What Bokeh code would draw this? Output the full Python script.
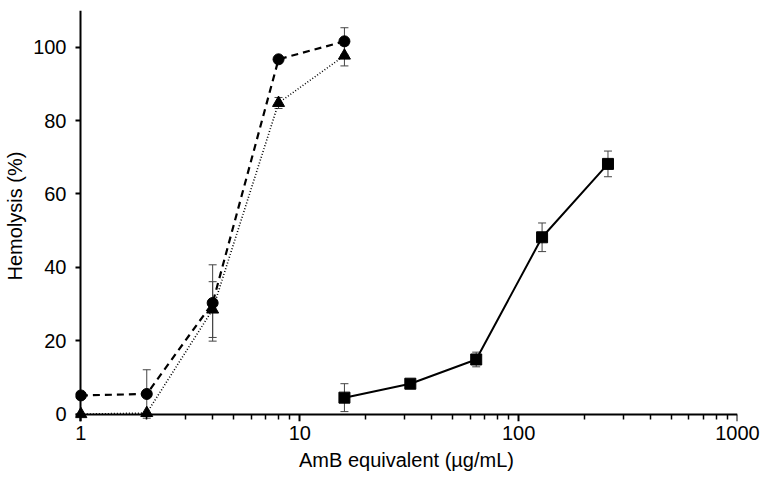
from bokeh.plotting import figure
from bokeh.models import FixedTicker, Whisker, ColumnDataSource, TeeHead, LogAxis, LinearAxis
from bokeh.embed import file_html
from bokeh.resources import INLINE

# AmB equivalent concentration (µg/mL) and hemolysis (%) with SD
conc_a = [1, 2, 4, 8, 16]
hemo_circle = [5.1, 5.5, 30.3, 96.7, 101.6]
err_circle = [0.0, 6.6, 10.4, 0.0, 3.7]

hemo_triangle = [0.0, 0.3, 28.5, 84.8, 97.7]
err_triangle = [0.0, 0.0, 7.6, 1.5, 2.8]

conc_b = [16, 32, 64, 128, 256]
hemo_square = [4.5, 8.3, 14.9, 48.2, 68.2]
err_square = [3.8, 0.0, 2.0, 3.9, 3.5]

x_ticks = [1, 10, 100, 1000]
y_ticks = [0, 20, 40, 60, 80, 100]

FONT = "Liberation Sans"

# ranges reach a little past the axes so edge markers are not cut off
p = figure(width=762, height=482, x_axis_type="log", x_range=(0.945, 1000), y_range=(-2, 110),
           output_backend="svg", toolbar_location=None,
           min_border_left=75, min_border_right=25, min_border_top=10, min_border_bottom=61)
p.outline_line_color = None
p.grid.visible = False
p.background_fill_color = "white"

minor = [m * d for d in (1, 10, 100) for m in range(2, 10)]
x_ticker = FixedTicker(ticks=x_ticks, minor_ticks=minor)
y_ticker = FixedTicker(ticks=y_ticks, minor_ticks=[])

# frame-edge axes carry only the tick labels and titles
p.xaxis.ticker = x_ticker
p.xaxis.major_label_overrides = {1: "1", 10: "10", 100: "100", 1000: "1000"}
p.yaxis.ticker = y_ticker
for ax in (p.xaxis, p.yaxis):
    ax.axis_line_color = None
    ax.major_tick_line_color = None
    ax.minor_tick_line_color = None
    ax.major_tick_in = 0
    ax.major_tick_out = 0
    ax.minor_tick_in = 0
    ax.minor_tick_out = 0
    ax.major_label_text_font = FONT
    ax.major_label_text_font_size = "20px"
    ax.major_label_text_color = "black"
    ax.axis_label_text_font = FONT
    ax.axis_label_text_font_size = "20px"
    ax.axis_label_text_font_style = "normal"
    ax.axis_label_text_color = "black"
p.xaxis.axis_label = "AmB equivalent (µg/mL)"
p.yaxis.axis_label = "Hemolysis (%)"
p.xaxis.major_label_standoff = 4
p.yaxis.major_label_standoff = 9
p.xaxis.axis_label_standoff = 6
p.yaxis.axis_label_standoff = 4

# axis lines and ticks drawn through x = 1 and y = 0; placed in the
# opposite panels, so their ticks point inward toward the labels
x_line = LogAxis(ticker=x_ticker, fixed_location=0)
y_line = LinearAxis(ticker=y_ticker, fixed_location=1)
for ax in (x_line, y_line):
    ax.axis_line_color = "black"
    ax.axis_line_width = 2
    ax.major_tick_line_color = "black"
    ax.major_tick_line_width = 2
    ax.minor_tick_line_color = "black"
    ax.minor_tick_line_width = 1.5
    ax.major_tick_in = 7
    ax.major_tick_out = 0
    ax.minor_tick_in = 5
    ax.minor_tick_out = 0
    ax.major_label_text_alpha = 0
    ax.major_label_text_font_size = "1px"
p.add_layout(x_line, "above")
p.add_layout(y_line, "right")


def add_errors(x, y, e):
    src = ColumnDataSource(dict(x=[a for a, s in zip(x, e) if s > 0],
                                lo=[b - s for b, s in zip(y, e) if s > 0],
                                hi=[b + s for b, s in zip(y, e) if s > 0]))
    w = Whisker(source=src, base="x", lower="lo", upper="hi", dimension="height",
                line_color="#444444", line_width=1,
                upper_head=TeeHead(size=8, line_color="#444444", line_width=1),
                lower_head=TeeHead(size=8, line_color="#444444", line_width=1))
    p.add_layout(w)


add_errors(conc_a, hemo_circle, err_circle)
add_errors(conc_a, hemo_triangle, err_triangle)
add_errors(conc_b, hemo_square, err_square)

p.line(conc_a, hemo_circle, line_color="black", line_width=2.2, line_dash="7 5")
p.line(conc_a, hemo_triangle, line_color="black", line_width=1.6, line_dash="1 2")
p.line(conc_b, hemo_square, line_color="black", line_width=2)

p.scatter(conc_a, hemo_circle, marker="circle", size=11, fill_color="black", line_color="black")
p.scatter(conc_a, hemo_triangle, marker="triangle", size=12, fill_color="black", line_color="black")
p.scatter(conc_b, hemo_square, marker="square", size=11, fill_color="black", line_color="black")

open("out.html", "w").write(file_html(p, INLINE))
